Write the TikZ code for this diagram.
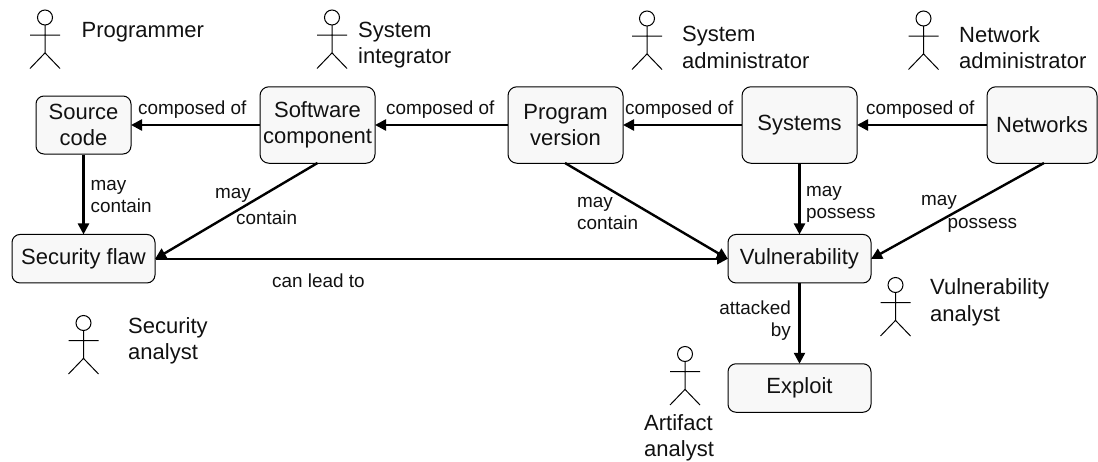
\documentclass[tikz,border=0pt]{standalone}
\usepackage{fontspec}
\setmainfont{Liberation Sans}
\usetikzlibrary{arrows.meta}
\definecolor{boxfill}{HTML}{F8F8F8}
\definecolor{ink}{HTML}{111111}
\tikzset{
  x=1pt,y=-1pt,
  entity/.style={draw=black,line width=1pt,fill=boxfill,rounded corners=9pt,inner sep=0pt,align=center,text=ink,font=\fontsize{22}{26.6}\selectfont},
  rolelabel/.style={anchor=west,inner sep=0pt,align=left,text=ink,yshift=-1.5pt,font=\fontsize{22}{26.6}\selectfont},
  edgelabel/.style={anchor=west,inner sep=0pt,align=left,text=ink,yshift=-1pt,font=\fontsize{18.9}{22}\selectfont},
  link/.style={draw=black,line width=2.4pt,-{Triangle[length=11pt,width=11pt]},shorten >=-0.5pt},
  actor/.pic={
    \draw[line width=1pt] (0,0) circle[radius=7.5];
    \draw[line width=1pt] (0,7.5) -- (0,35.4) (-15,17.7) -- (15,17.7) (-15,51) -- (0,35.4) -- (15,51);
  }
}
\begin{document}
\begin{tikzpicture}
\useasboundingbox (0,0) rectangle (1098,461);
% boxes
\node[entity,minimum width=95pt,minimum height=58pt,rounded corners=8pt] (src) at (83.5,125) {Source\\code};
\node[entity,minimum width=115pt,minimum height=76.5pt] (comp) at (317.5,125) {Software\\component};
\node[entity,minimum width=115pt,minimum height=76.5pt] (prog) at (565.5,125) {Program\\version};
\node[entity,minimum width=115pt,minimum height=76.5pt] (sys) at (799.5,125) {Systems};
\node[entity,minimum width=110pt,minimum height=76.5pt] (net) at (1042,125) {Networks};
\node[entity,minimum width=143pt,minimum height=48.5pt,rounded corners=8pt] (flaw) at (83.5,258.7) {Security flaw};
\node[entity,minimum width=143pt,minimum height=48.5pt,rounded corners=8pt] (vuln) at (799.5,258.7) {Vulnerability};
\node[entity,minimum width=143pt,minimum height=48.5pt,rounded corners=8pt] (expl) at (799.5,388) {Exploit};
\coordinate (compS) at (317.5,163);
\coordinate (progS) at (565,163);
\coordinate (netS) at (1044,163);
% connectors
\draw[link] (comp.west) -- (src.east);
\draw[link] (prog.west) -- (comp.east);
\draw[link] (sys.west) -- (prog.east);
\draw[link] (net.west) -- (sys.east);
\draw[link] (src.south) -- (flaw.north);
\draw[link] (sys.south) -- (vuln.north);
\draw[link] (vuln.south) -- (expl.north);
\draw[link] (flaw.east) -- (vuln.west);
\draw[link] (compS) -- (flaw.east);
\draw[link] (progS) -- (vuln.west);
\draw[link] (netS) -- (vuln.east);
% actors
\pic at (45,17.5) {actor};
\pic at (332,17.5) {actor};
\pic at (647,18.5) {actor};
\pic at (923.5,18.5) {actor};
\pic at (895.5,285) {actor};
\pic at (685,354) {actor};
\pic at (83.5,323) {actor};
% role labels
\node[rolelabel] (r1) at (81.5,30.7) {Programmer};
\node[rolelabel] (r2) at (358,43.7) {System\\integrator};
\node[rolelabel] (r3) at (682,46) {System\\administrator};
\node[rolelabel] (r4) at (959,46) {Network\\administrator};
\node[rolelabel] (r5) at (930,301) {Vulnerability\\analyst};
\node[rolelabel] (r6) at (644,436.5) {Artifact\\analyst};
\node[rolelabel] (r7) at (128,339.5) {Security\\analyst};
% edge labels
\node[edgelabel] (e1) at (138,108.3) {composed of};
\node[edgelabel] (e2) at (386,108.3) {composed of};
\node[edgelabel] (e3) at (625,108.3) {composed of};
\node[edgelabel] (e4) at (866,108.3) {composed of};
\node[edgelabel] (e5) at (90.5,196) {may\\contain};
\node[edgelabel] (e6) at (215,194.3) {may};
\node[edgelabel] (e7) at (236,216.7) {contain};
\node[edgelabel] (e8) at (577,212.5) {may\\contain};
\node[edgelabel] (e9) at (806,203) {may\\possess};
\node[edgelabel] (e10) at (921,201.7) {may};
\node[edgelabel] (e11) at (947.5,224) {possess};
\node[edgelabel] (e12) at (272,280) {can lead to};
\node[edgelabel,anchor=east,align=right] (e13) at (791,320) {attacked\\by};
\end{tikzpicture}
\end{document}
